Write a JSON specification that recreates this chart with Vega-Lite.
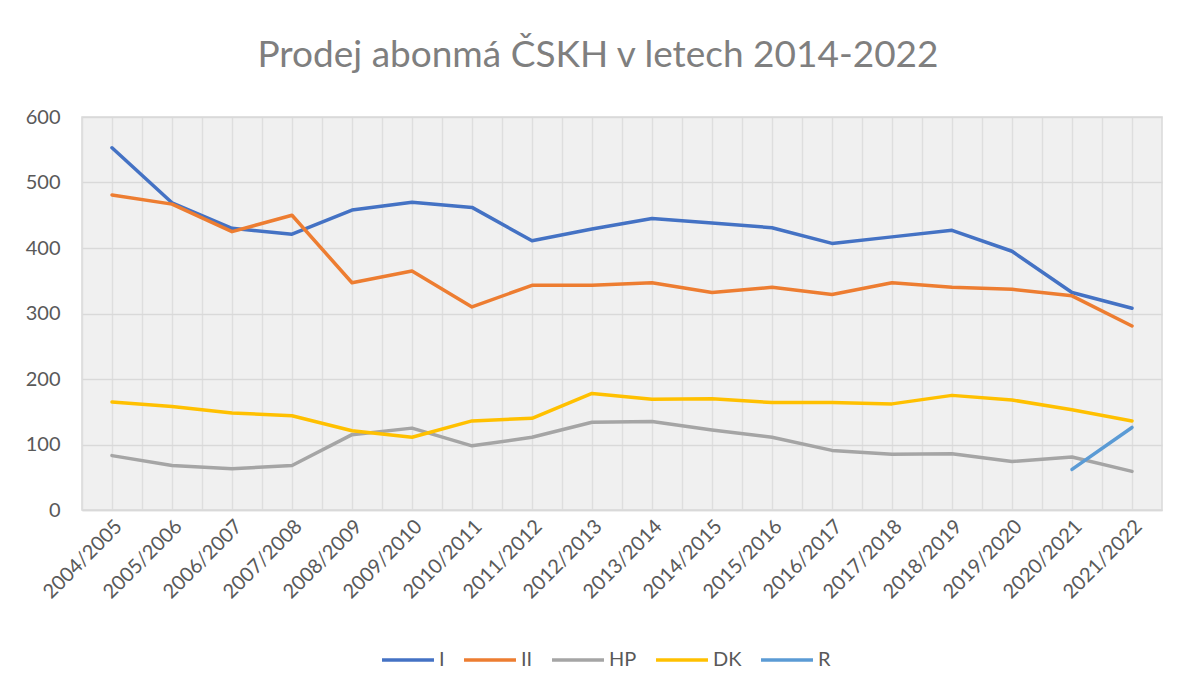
{
  "$schema": "https://vega.github.io/schema/vega-lite/v6.json",
  "autosize": "none",
  "width": 1080,
  "height": 393,
  "padding": {"left": 82, "top": 117, "right": 18, "bottom": 179},
  "background": "white",
  "title": {
    "text": "Prodej abonmá ČSKH v letech 2014-2022",
    "font": "Lato",
    "fontSize": 37,
    "fontWeight": "normal",
    "color": "#7f7f7f",
    "anchor": "middle",
    "baseline": "alphabetic",
    "offset": 3,
    "dx": -24
  },
  "config": {
    "view": {"fill": "#f0f0f0", "stroke": "#d9d9d9", "strokeWidth": 1.5},
    "font": "Lato"
  },
  "data": {
    "values": [
      {"season": "2004/2005", "series": "I", "value": 553},
      {"season": "2005/2006", "series": "I", "value": 469},
      {"season": "2006/2007", "series": "I", "value": 430},
      {"season": "2007/2008", "series": "I", "value": 421},
      {"season": "2008/2009", "series": "I", "value": 458},
      {"season": "2009/2010", "series": "I", "value": 470},
      {"season": "2010/2011", "series": "I", "value": 462},
      {"season": "2011/2012", "series": "I", "value": 411},
      {"season": "2012/2013", "series": "I", "value": 429},
      {"season": "2013/2014", "series": "I", "value": 445},
      {"season": "2014/2015", "series": "I", "value": 438},
      {"season": "2015/2016", "series": "I", "value": 431},
      {"season": "2016/2017", "series": "I", "value": 407},
      {"season": "2017/2018", "series": "I", "value": 417},
      {"season": "2018/2019", "series": "I", "value": 427},
      {"season": "2019/2020", "series": "I", "value": 395},
      {"season": "2020/2021", "series": "I", "value": 332},
      {"season": "2021/2022", "series": "I", "value": 308},
      {"season": "2004/2005", "series": "II", "value": 481},
      {"season": "2005/2006", "series": "II", "value": 467},
      {"season": "2006/2007", "series": "II", "value": 425},
      {"season": "2007/2008", "series": "II", "value": 450},
      {"season": "2008/2009", "series": "II", "value": 347},
      {"season": "2009/2010", "series": "II", "value": 365},
      {"season": "2010/2011", "series": "II", "value": 310},
      {"season": "2011/2012", "series": "II", "value": 343},
      {"season": "2012/2013", "series": "II", "value": 343},
      {"season": "2013/2014", "series": "II", "value": 347},
      {"season": "2014/2015", "series": "II", "value": 332},
      {"season": "2015/2016", "series": "II", "value": 340},
      {"season": "2016/2017", "series": "II", "value": 329},
      {"season": "2017/2018", "series": "II", "value": 347},
      {"season": "2018/2019", "series": "II", "value": 340},
      {"season": "2019/2020", "series": "II", "value": 337},
      {"season": "2020/2021", "series": "II", "value": 327},
      {"season": "2021/2022", "series": "II", "value": 281},
      {"season": "2004/2005", "series": "HP", "value": 83},
      {"season": "2005/2006", "series": "HP", "value": 68},
      {"season": "2006/2007", "series": "HP", "value": 63},
      {"season": "2007/2008", "series": "HP", "value": 68},
      {"season": "2008/2009", "series": "HP", "value": 115},
      {"season": "2009/2010", "series": "HP", "value": 125},
      {"season": "2010/2011", "series": "HP", "value": 98},
      {"season": "2011/2012", "series": "HP", "value": 111},
      {"season": "2012/2013", "series": "HP", "value": 134},
      {"season": "2013/2014", "series": "HP", "value": 135},
      {"season": "2014/2015", "series": "HP", "value": 122},
      {"season": "2015/2016", "series": "HP", "value": 111},
      {"season": "2016/2017", "series": "HP", "value": 91},
      {"season": "2017/2018", "series": "HP", "value": 85},
      {"season": "2018/2019", "series": "HP", "value": 86},
      {"season": "2019/2020", "series": "HP", "value": 74},
      {"season": "2020/2021", "series": "HP", "value": 81},
      {"season": "2021/2022", "series": "HP", "value": 59},
      {"season": "2004/2005", "series": "DK", "value": 165},
      {"season": "2005/2006", "series": "DK", "value": 158},
      {"season": "2006/2007", "series": "DK", "value": 148},
      {"season": "2007/2008", "series": "DK", "value": 144},
      {"season": "2008/2009", "series": "DK", "value": 121},
      {"season": "2009/2010", "series": "DK", "value": 111},
      {"season": "2010/2011", "series": "DK", "value": 136},
      {"season": "2011/2012", "series": "DK", "value": 140},
      {"season": "2012/2013", "series": "DK", "value": 178},
      {"season": "2013/2014", "series": "DK", "value": 169},
      {"season": "2014/2015", "series": "DK", "value": 170},
      {"season": "2015/2016", "series": "DK", "value": 164},
      {"season": "2016/2017", "series": "DK", "value": 164},
      {"season": "2017/2018", "series": "DK", "value": 162},
      {"season": "2018/2019", "series": "DK", "value": 175},
      {"season": "2019/2020", "series": "DK", "value": 168},
      {"season": "2020/2021", "series": "DK", "value": 153},
      {"season": "2021/2022", "series": "DK", "value": 136},
      {"season": "2020/2021", "series": "R", "value": 62},
      {"season": "2021/2022", "series": "R", "value": 126}
    ]
  },
  "resolve": {"axis": {"x": "independent"}},
  "layer": [
    {
      "mark": {"type": "point", "opacity": 0},
      "encoding": {
        "x": {
          "field": "season",
          "type": "ordinal",
          "sort": null,
          "scale": {"type": "band", "paddingInner": 0, "paddingOuter": 0},
          "axis": {
            "orient": "bottom",
            "title": null,
            "labels": false,
            "ticks": false,
            "domain": false,
            "grid": true,
            "bandPosition": 0,
            "gridColor": "#dedede",
            "gridWidth": 1.5
          }
        },
        "y": {"field": "value", "type": "quantitative"}
      }
    },
    {
      "mark": {"type": "line", "strokeWidth": 3.5, "strokeCap": "round", "strokeJoin": "round"},
      "encoding": {
        "x": {
          "field": "season",
          "type": "ordinal",
          "sort": null,
          "axis": {
            "orient": "bottom",
            "title": null,
            "labelAngle": -45,
            "labelFontSize": 20,
            "labelColor": "#595959",
            "labelPadding": 6,
            "ticks": false,
            "tickSize": 0,
            "domain": true,
            "domainColor": "#d9d9d9",
            "domainWidth": 1.5,
            "grid": true,
            "bandPosition": 0.5,
            "gridColor": "#dedede",
            "gridWidth": 1.5
          }
        },
        "y": {
          "field": "value",
          "type": "quantitative",
          "scale": {"domain": [0, 600], "nice": false},
          "axis": {
            "title": null,
            "values": [0, 100, 200, 300, 400, 500, 600],
            "labelFontSize": 20,
            "labelColor": "#595959",
            "labelPadding": 22,
            "ticks": false,
            "tickSize": 0,
            "domain": false,
            "grid": true,
            "gridColor": "#d9d9d9",
            "gridWidth": 1.5
          }
        },
        "color": {
          "field": "series",
          "type": "nominal",
          "scale": {
            "domain": ["I", "II", "HP", "DK", "R"],
            "range": ["#4472C4", "#ED7D31", "#A5A5A5", "#FFC000", "#5B9BD5"]
          },
          "legend": {
            "title": null,
            "orient": "none",
            "direction": "horizontal",
            "legendX": 298,
            "legendY": 515,
            "symbolType": "stroke",
            "symbolSize": 2700,
            "symbolStrokeWidth": 3.5,
            "labelFontSize": 20,
            "labelColor": "#595959",
            "labelOffset": 3,
            "columnPadding": 12
          }
        }
      }
    }
  ]
}
